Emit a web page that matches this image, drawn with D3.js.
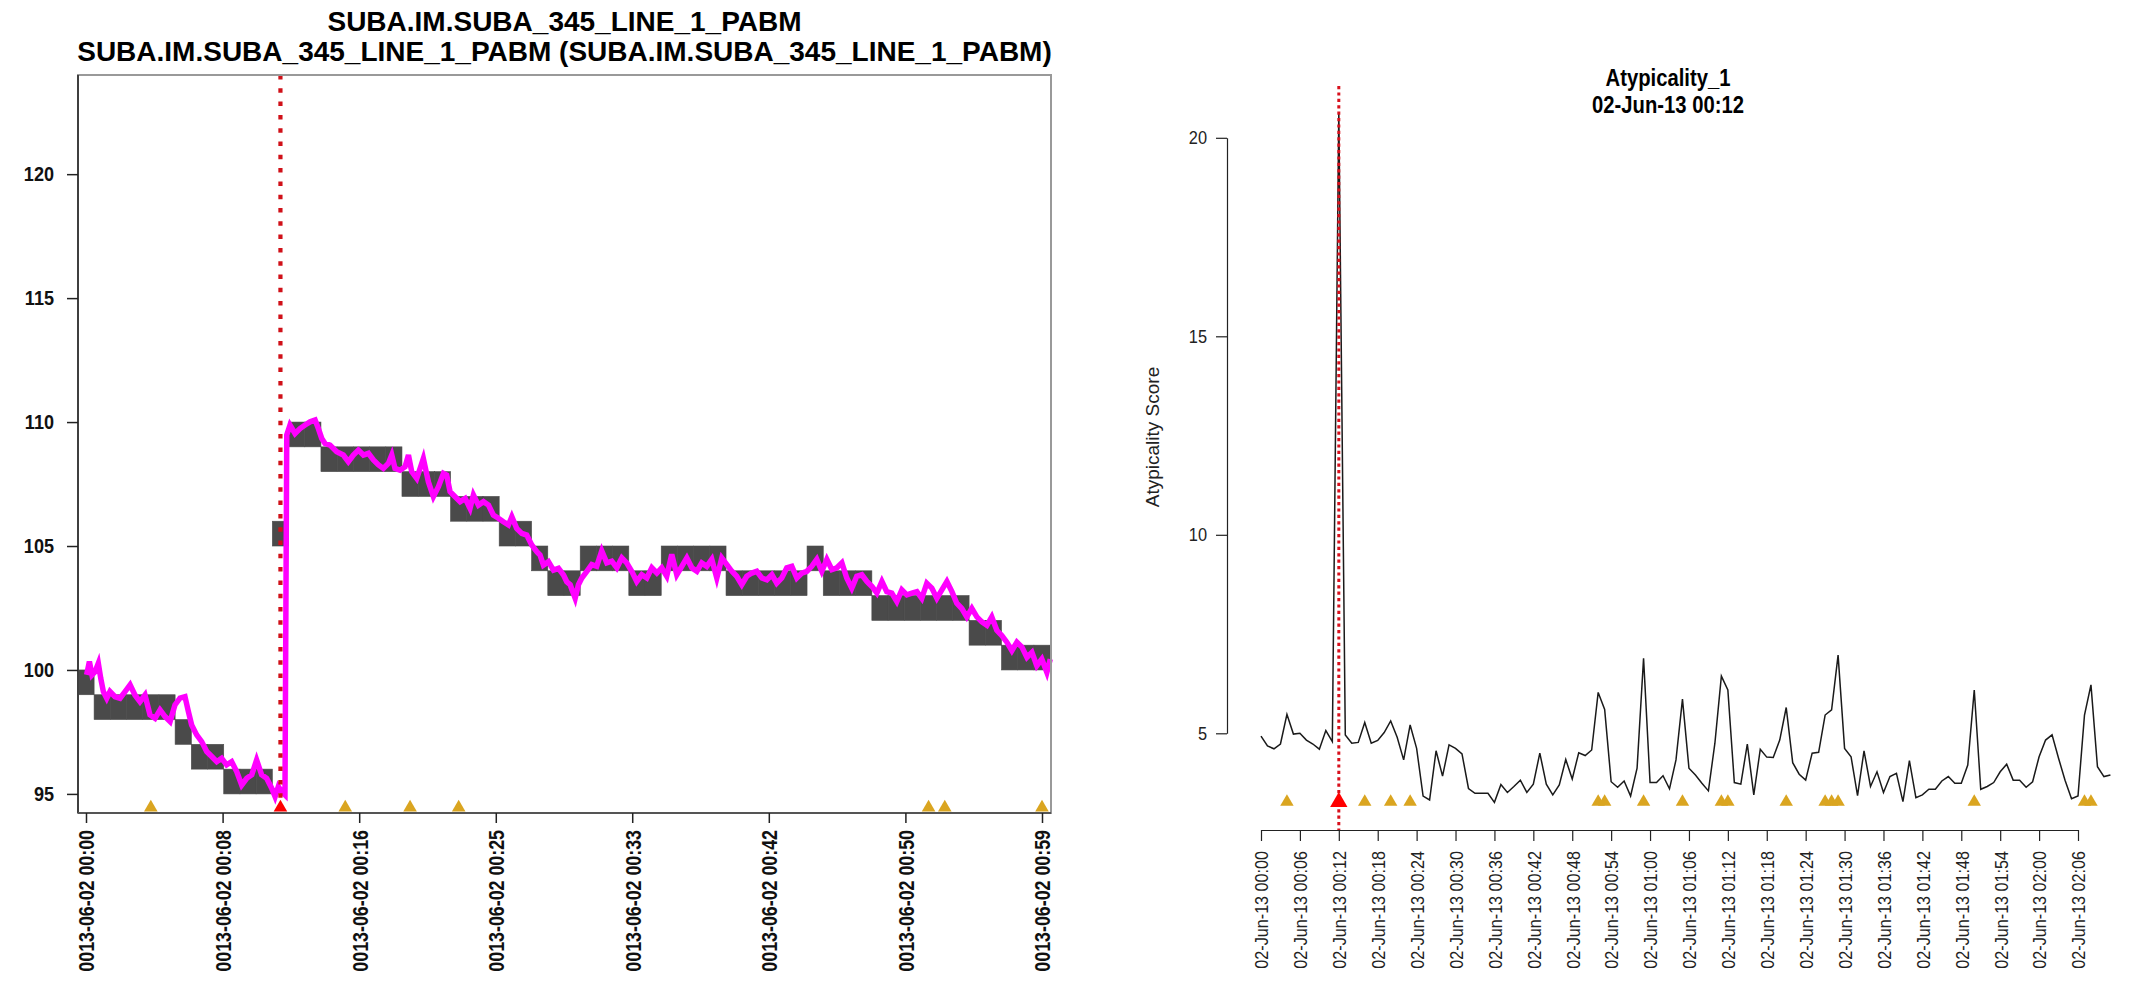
<!DOCTYPE html>
<html lang="en">
<head>
<meta charset="UTF-8">
<title>SUBA_345_LINE_1_PABM / Atypicality_1</title>
<script src="https://d3js.org/d3.v7.min.js"></script>
<style>
  body { margin: 0; background: #fff; font-family: "Liberation Sans", Arial, sans-serif; }
  svg { display: block; }
</style>
</head>
<body>
<svg id="chart" width="2136" height="991"></svg>
<script>
// ---------- left panel data (minutes after 00:00) ----------
const sigMinutes = [
  0.04, 0.21, 0.37, 0.56, 0.76, 0.91, 1.07, 1.28, 1.48, 1.79, 2.10, 2.41, 2.72, 3.02, 3.33, 3.64,
  3.95, 4.26, 4.57, 4.88, 5.19, 5.49, 5.80, 6.11, 6.32, 6.52, 6.83, 7.14, 7.45, 7.76, 8.07, 8.37,
  8.68, 8.99, 9.30, 9.61, 9.92, 10.23, 10.53, 10.84, 11.15, 11.46, 11.67, 11.87, 12.08, 12.28,
  12.39, 12.59, 12.90, 13.21, 13.52, 13.83, 14.14, 14.34, 14.55, 14.75, 15.06, 15.47, 15.88, 16.19,
  16.50, 16.81, 17.12, 17.43, 17.74, 18.05, 18.35, 18.66, 18.87, 19.07, 19.38, 19.69, 19.90, 20.10,
  20.41, 20.62, 20.82, 21.13, 21.44, 21.75, 22.06, 22.26, 22.47, 22.78, 23.09, 23.40, 23.70, 23.91,
  24.22, 24.53, 24.84, 25.14, 25.45, 25.76, 26.07, 26.28, 26.58, 26.89, 27.20, 27.51, 27.82, 28.02,
  28.23, 28.54, 28.85, 29.16, 29.47, 29.67, 29.88, 30.19, 30.39, 30.60, 30.91, 31.21, 31.52, 31.83,
  32.14, 32.45, 32.76, 33.07, 33.37, 33.68, 33.99, 34.30, 34.61, 34.92, 35.23, 35.53, 35.84, 36.15,
  36.46, 36.77, 37.08, 37.39, 37.70, 38.00, 38.31, 38.62, 38.93, 39.24, 39.55, 39.86, 40.16, 40.47,
  40.78, 41.09, 41.40, 41.71, 42.02, 42.33, 42.63, 42.94, 43.25, 43.56, 43.87, 44.18, 44.49, 44.79,
  45.10, 45.41, 45.72, 46.03, 46.34, 46.65, 46.95, 47.26, 47.57, 47.88, 48.19, 48.50, 48.81, 49.12,
  49.42, 49.73, 50.04, 50.35, 50.66, 50.97, 51.28, 51.58, 51.89, 52.20, 52.51, 52.82, 53.13, 53.44,
  53.74, 54.05, 54.36, 54.67, 54.98, 55.29, 55.60, 55.90, 56.21, 56.52, 56.83, 57.14, 57.45, 57.76,
  58.07, 58.38, 58.68, 58.99, 59.30, 59.51
];
const sigValues = [
  99.80, 100.34, 99.80, 99.93, 100.27, 99.66, 99.13, 98.86, 99.13, 98.92, 98.86, 99.13, 99.40, 98.99, 98.72, 98.99,
  98.19, 98.05, 98.39, 98.12, 97.92, 98.59, 98.86, 98.92, 98.32, 97.78, 97.38, 97.11, 96.71, 96.51, 96.30, 96.44,
  96.17, 96.30, 95.90, 95.36, 95.63, 95.77, 96.37, 95.77, 95.63, 95.23, 94.89, 95.30, 95.09, 94.96,
  109.48, 109.88, 109.54, 109.74, 109.88, 110.01, 110.08, 109.74, 109.34, 109.14, 109.07, 108.80, 108.67, 108.40,
  108.67, 108.87, 108.67, 108.74, 108.47, 108.27, 108.13, 108.33, 108.67, 108.13, 108.06, 108.20, 108.67, 108.00,
  107.73, 108.13, 108.53, 107.59, 106.99, 107.39, 107.93, 107.86, 107.19, 106.99, 106.79, 106.92, 106.52, 107.06,
  106.65, 106.79, 106.65, 106.25, 106.12, 105.98, 105.85, 106.18, 105.71, 105.51, 105.44, 105.04, 104.77, 104.64,
  104.23, 104.37, 104.03, 104.10, 103.83, 103.56, 103.44, 102.89, 103.44, 103.71, 103.98, 104.25, 104.18, 104.80,
  104.32, 104.39, 104.12, 104.52, 104.32, 103.98, 103.57, 103.84, 103.71, 104.12, 103.91, 104.12, 103.78, 104.66,
  103.84, 104.18, 104.52, 104.12, 103.98, 104.32, 104.18, 104.46, 103.71, 104.52, 104.25, 103.98, 103.78, 103.44,
  103.78, 103.91, 103.98, 103.71, 103.64, 103.84, 103.50, 103.71, 104.12, 104.18, 103.71, 103.91, 103.98, 104.18,
  104.46, 103.98, 104.46, 104.05, 104.12, 104.32, 103.71, 103.30, 103.78, 103.84, 103.57, 103.37, 103.10, 103.57,
  103.16, 103.10, 102.76, 103.23, 103.03, 103.10, 103.16, 102.89, 103.50, 103.30, 102.89, 103.23, 103.57, 103.16,
  102.69, 102.48, 102.14, 102.48, 102.14, 101.94, 101.80, 102.14, 101.60, 101.39, 101.12, 100.78, 101.12, 100.92,
  100.51, 100.71, 100.17, 100.44, 99.90, 100.44
];
// lower edge of the one-unit band for each minute 0..59
const bandLow = [
  99, 98, 98, 98, 98, 98, 97, 96, 96, 95, 95, 95, 105, 109, 109, 108, 108, 108, 108, 108,
  107, 107, 107, 106, 106, 106, 105, 105, 104, 103, 103, 104, 104, 104, 103, 103, 104, 104, 104, 104,
  103, 103, 103, 103, 103, 104, 103, 103, 103, 102, 102, 102, 102, 102, 102, 101, 101, 100, 100, 100
];
const leftTickMinutes = [0, 8.43, 16.86, 25.29, 33.71, 42.14, 50.57, 59];
const leftTickLabels = ["0013-06-02 00:00", "0013-06-02 00:08", "0013-06-02 00:16", "0013-06-02 00:25",
  "0013-06-02 00:33", "0013-06-02 00:42", "0013-06-02 00:50", "0013-06-02 00:59"];
const leftYTicks = [95, 100, 105, 110, 115, 120];

// ---------- right panel data (one score per minute) ----------
const scores = [
  4.93, 4.68, 4.61, 4.73, 5.48, 4.98, 5.00, 4.83, 4.73, 4.60, 5.07, 4.79, 20.65, 4.96, 4.75, 4.77,
  5.27, 4.75, 4.82, 5.02, 5.31, 4.90, 4.33, 5.21, 4.62, 3.42, 3.32, 4.56, 3.92, 4.71, 4.62, 4.48,
  3.61, 3.49, 3.49, 3.49, 3.26, 3.71, 3.51, 3.66, 3.82, 3.51, 3.72, 4.50, 3.72, 3.45, 3.70, 4.34,
  3.85, 4.51, 4.44, 4.58, 6.03, 5.60, 3.78, 3.64, 3.80, 3.42, 4.12, 6.89, 3.76, 3.76, 3.93, 3.60,
  4.33, 5.86, 4.12, 3.95, 3.74, 3.55, 4.75, 6.44, 6.09, 3.76, 3.72, 4.73, 3.45, 4.60, 4.40, 4.39,
  4.83, 5.65, 4.26, 3.97, 3.82, 4.50, 4.52, 5.46, 5.59, 6.97, 4.62, 4.41, 3.43, 4.56, 3.66, 4.03,
  3.51, 3.91, 3.99, 3.28, 4.31, 3.38, 3.45, 3.59, 3.59, 3.80, 3.91, 3.74, 3.74, 4.20, 6.09, 3.59,
  3.66, 3.76, 4.03, 4.22, 3.82, 3.82, 3.64, 3.78, 4.41, 4.83, 4.96, 4.37, 3.82, 3.35, 3.42, 5.46,
  6.22, 4.16, 3.91, 3.95
];
const rightTickMinutes = [0, 6, 12, 18, 24, 30, 36, 42, 48, 54, 60, 66, 72, 78, 84, 90, 96, 102, 108, 114, 120, 126];
const rightTickLabels = ["02-Jun-13 00:00", "02-Jun-13 00:06", "02-Jun-13 00:12", "02-Jun-13 00:18",
  "02-Jun-13 00:24", "02-Jun-13 00:30", "02-Jun-13 00:36", "02-Jun-13 00:42", "02-Jun-13 00:48",
  "02-Jun-13 00:54", "02-Jun-13 01:00", "02-Jun-13 01:06", "02-Jun-13 01:12", "02-Jun-13 01:18",
  "02-Jun-13 01:24", "02-Jun-13 01:30", "02-Jun-13 01:36", "02-Jun-13 01:42", "02-Jun-13 01:48",
  "02-Jun-13 01:54", "02-Jun-13 02:00", "02-Jun-13 02:06"];
const rightYTicks = [5, 10, 15, 20];

// flagged minutes (triangles) and the selected alert
const eventMinutes = [4, 12, 16, 20, 23, 52, 53, 59, 65, 71, 72, 81, 87, 88, 89, 110, 127, 128];
const alertMinute = 12;
const eventLevelLeft = 94.45;
const eventLevelRight = 3.27;

const svg = d3.select("#chart");

// squeeze text horizontally to mimic the narrow Helvetica of the original
function narrow(sel, ratio) {
    sel.each(function () {
        const w = this.getComputedTextLength();
        d3.select(this).attr("textLength", w * ratio).attr("lengthAdjust", "spacingAndGlyphs");
    });
}

// ================= left panel =================
const L = { left: 78, right: 1051, top: 75, bottom: 813 };
const xL = d3.scaleLinear().domain([0, 59]).range([86, 1042]);
const yL = d3.scaleLinear().domain([94.23, 124]).range([L.bottom, L.top]);

const left = svg.append("g");

left.append("text")
    .attr("x", (L.left + L.right) / 2).attr("y", 31)
    .attr("text-anchor", "middle")
    .style("font-weight", "bold").style("font-size", "28px")
    .text("SUBA.IM.SUBA_345_LINE_1_PABM");
left.append("text")
    .attr("x", (L.left + L.right) / 2).attr("y", 61)
    .attr("text-anchor", "middle")
    .style("font-weight", "bold").style("font-size", "28px")
    .text("SUBA.IM.SUBA_345_LINE_1_PABM (SUBA.IM.SUBA_345_LINE_1_PABM)");

// band rectangles, one per minute
left.append("g")
    .selectAll("rect")
    .data(bandLow)
    .join("rect")
    .attr("x", (d, i) => xL(i - 0.5))
    .attr("width", (d, i) => xL(i + 0.5) - xL(i - 0.5))
    .attr("y", d => yL(d + 1))
    .attr("height", d => yL(d) - yL(d + 1))
    .attr("fill", "#4a4a4a")
    .attr("stroke", "#4a4a4a")
    .attr("stroke-width", 0.6);

// raw signal
const sig = sigMinutes.map((m, i) => [m, sigValues[i]]);
left.append("path")
    .datum(sig)
    .attr("fill", "none")
    .attr("stroke", "#ff00ff")
    .attr("stroke-width", 5.5)
    .attr("stroke-linejoin", "miter")
    .attr("d", d3.line().x(d => xL(d[0])).y(d => yL(d[1])));

// alert marker
left.append("line")
    .attr("x1", xL(alertMinute)).attr("x2", xL(alertMinute))
    .attr("y1", L.top).attr("y2", L.bottom)
    .attr("stroke", "#d01018")
    .attr("stroke-width", 4.2)
    .attr("stroke-dasharray", "4.5,8.8");

// frame
left.append("rect")
    .attr("x", L.left).attr("y", L.top)
    .attr("width", L.right - L.left).attr("height", L.bottom - L.top)
    .attr("fill", "none").attr("stroke", "#999").attr("stroke-width", 2);

// axes
const yAxisL = left.append("g")
    .attr("transform", `translate(${L.left},0)`)
    .call(d3.axisLeft(yL).tickValues(leftYTicks).tickSize(11).tickSizeOuter(0).tickPadding(13));
yAxisL.select(".domain").attr("d", `M0,${L.top}V${L.bottom}`).attr("stroke", "#222").attr("stroke-width", 1.5);
yAxisL.selectAll(".tick line").attr("stroke", "#222").attr("stroke-width", 1.5);
yAxisL.selectAll("text")
    .style("font-family", "'Liberation Sans', Arial, sans-serif")
    .style("font-size", "21px").style("font-weight", "bold").attr("fill", "#111")
    .call(narrow, 0.86);

const xAxisL = left.append("g")
    .attr("transform", `translate(0,${L.bottom})`)
    .call(d3.axisBottom(xL).tickValues(leftTickMinutes)
        .tickFormat((d, i) => leftTickLabels[i]).tickSize(10).tickSizeOuter(0));
xAxisL.select(".domain").attr("d", `M${L.left},0H${L.right}`).attr("stroke", "#555").attr("stroke-width", 2);
xAxisL.selectAll(".tick line").attr("stroke", "#222").attr("stroke-width", 1.5);
xAxisL.selectAll("text")
    .attr("transform", "rotate(-90)")
    .attr("text-anchor", "end")
    .attr("x", -17).attr("y", 0).attr("dy", "0.36em")
    .style("font-family", "'Liberation Sans', Arial, sans-serif")
    .style("font-size", "22px").style("font-weight", "bold").attr("fill", "#111")
    .call(narrow, 0.81);

// event triangles (first hour only)
left.append("g")
    .selectAll("path")
    .data(eventMinutes.filter(m => m <= 59.5))
    .join("path")
    .attr("transform", m => `translate(${xL(m)},${yL(eventLevelLeft)})`)
    .attr("d", d3.symbol(d3.symbolTriangle, 80))
    .attr("fill", m => m === alertMinute ? "#ff0000" : "#daa520");

// ================= right panel =================
const R = { top: 86, bottom: 830 };
const xR = d3.scaleLinear().domain([0, 126]).range([1261, 2078]);
const yR = d3.scaleLinear().domain([5, 20]).range([733.3, 137.8]);

const right = svg.append("g");

right.append("text")
    .attr("x", 1668).attr("y", 86)
    .attr("text-anchor", "middle")
    .style("font-weight", "bold").style("font-size", "23px")
    .text("Atypicality_1")
    .call(narrow, 0.88);
right.append("text")
    .attr("x", 1668).attr("y", 113)
    .attr("text-anchor", "middle")
    .style("font-weight", "bold").style("font-size", "23px")
    .text("02-Jun-13 00:12")
    .call(narrow, 0.88);

right.append("text")
    .attr("transform", "translate(1152,437) rotate(-90)")
    .attr("text-anchor", "middle")
    .attr("dy", "0.35em")
    .style("font-size", "19px").attr("fill", "#222")
    .text("Atypicality Score");

right.append("path")
    .datum(scores)
    .attr("fill", "none")
    .attr("stroke", "#1a1a1a")
    .attr("stroke-width", 1.5)
    .attr("d", d3.line().x((d, i) => xR(i)).y(d => yR(d)));

right.append("line")
    .attr("x1", xR(alertMinute)).attr("x2", xR(alertMinute))
    .attr("y1", R.top).attr("y2", R.bottom)
    .attr("stroke", "#d8101c")
    .attr("stroke-width", 3)
    .attr("stroke-dasharray", "3.2,3.2");

right.append("g")
    .selectAll("path")
    .data(eventMinutes)
    .join("path")
    .attr("transform", m => `translate(${xR(m)},${yR(eventLevelRight)})`)
    .attr("d", m => d3.symbol(d3.symbolTriangle, m === alertMinute ? 130 : 78)())
    .attr("fill", m => m === alertMinute ? "#ff0000" : "#daa520");

const yAxisR = right.append("g")
    .attr("transform", "translate(1227,0)")
    .call(d3.axisLeft(yR).tickValues(rightYTicks).tickSize(11).tickSizeOuter(0).tickPadding(9));
yAxisR.selectAll("path, line").attr("stroke", "#222").attr("stroke-width", 1.2);
yAxisR.selectAll("text")
    .style("font-family", "'Liberation Sans', Arial, sans-serif")
    .style("font-size", "19px").attr("fill", "#222")
    .call(narrow, 0.86);

const xAxisR = right.append("g")
    .attr("transform", `translate(0,${R.bottom})`)
    .call(d3.axisBottom(xR).tickValues(rightTickMinutes)
        .tickFormat((d, i) => rightTickLabels[i]).tickSize(11).tickSizeOuter(0));
xAxisR.selectAll("path, line").attr("stroke", "#222").attr("stroke-width", 1.2);
xAxisR.selectAll("text")
    .attr("transform", "rotate(-90)")
    .attr("text-anchor", "end")
    .attr("x", -21).attr("y", 0).attr("dy", "0.36em")
    .style("font-family", "'Liberation Sans', Arial, sans-serif")
    .style("font-size", "19px").attr("fill", "#222")
    .call(narrow, 0.85);
</script>
</body>
</html>
